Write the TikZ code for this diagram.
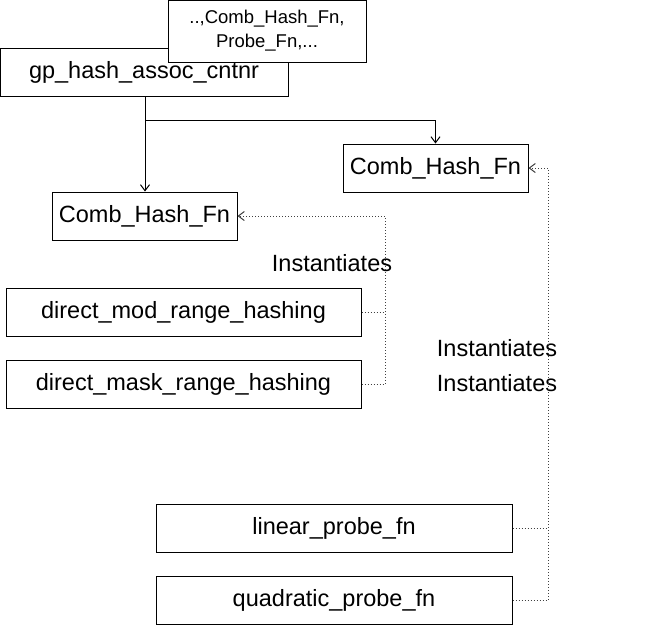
\documentclass[tikz,border=0pt]{standalone}
\usepackage{fontspec}
\setmainfont{Liberation Sans}
\usetikzlibrary{arrows.meta,positioning}

\begin{document}
\begin{tikzpicture}[
    x=1pt, y=-1pt,
    box/.style={draw, rectangle, fill=white, line width=1pt, inner sep=0pt,
                minimum height=48pt, align=center, font=\fontsize{23.5}{28}\selectfont},
    tmpl/.style={draw, rectangle, fill=white, line width=1pt, inner sep=0pt,
                 minimum width=198pt, minimum height=62pt, align=center,
                 font=\fontsize{18.5}{24}\selectfont},
    lbl/.style={inner sep=0pt, font=\fontsize{23.5}{28}\selectfont},
    arrow/.style={-{Straight Barb[length=6pt,width=9pt]}, line width=1pt},
    inst/.style={dotted, line width=1pt, black!75},
    instarrow/.style={inst, -{Straight Barb[length=6pt,width=9pt]}}
]
    \useasboundingbox (0,0) rectangle (665,625);

    % Container with its template parameters
    \node[box, minimum width=288pt] (gp) at (144, 72) {gp\_hash\_assoc\_cntnr};
    \node[tmpl] (params) at (267, 31) {..,Comb\_Hash\_Fn,\\Probe\_Fn,...};

    % Policy parameters
    \node[box, minimum width=185pt] (chl) at (144.5, 216) {Comb\_Hash\_Fn};
    \node[box, minimum width=185pt] (chr) at (435.5, 168) {Comb\_Hash\_Fn};

    % Left instances
    \node[box, minimum width=355pt] (dmod) at (183.5, 312) {direct\_mod\_range\_hashing};
    \node[box, minimum width=355pt] (dmask) at (183.5, 384) {direct\_mask\_range\_hashing};

    % Right instances
    \node[box, minimum width=356pt] (lin) at (334, 528) {linear\_probe\_fn};
    \node[box, minimum width=356pt] (quad) at (334, 600) {quadratic\_probe\_fn};

    % Labels
    \node[lbl] (il) at (332, 263) {Instantiates};
    \node[lbl] (ir1) at (497, 348) {Instantiates};
    \node[lbl] (ir2) at (497, 383) {Instantiates};

    % Arrows
    \coordinate (split) at (145, 120);
    \draw[arrow] (gp.south -| split) -- (chl.north -| split);
    \draw[arrow] (split) -| (chr.north);

    % Instantiation links
    \coordinate (ljoin) at (385, 216);
    \draw[instarrow] (dmask.east) -| (ljoin) -- (chl.east);
    \draw[inst] (dmod.east) -- (dmod.east -| ljoin);

    \coordinate (rjoin) at (548, 168);
    \draw[instarrow] (quad.east) -| (rjoin) -- (chr.east);
    \draw[inst] (lin.east) -- (lin.east -| rjoin);
\end{tikzpicture}
\end{document}
